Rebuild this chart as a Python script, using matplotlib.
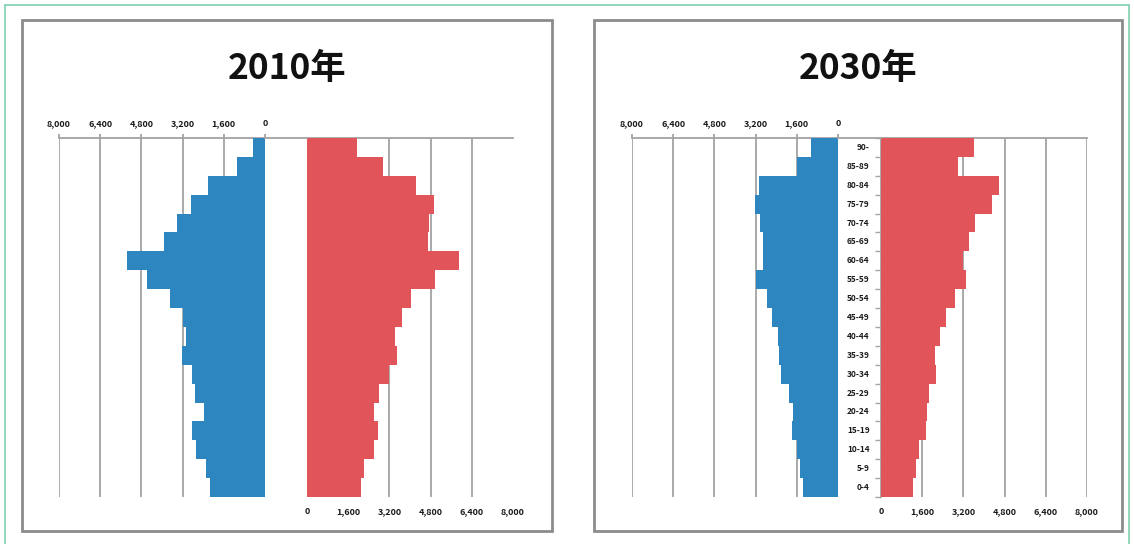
import matplotlib.pyplot as plt
from matplotlib.patches import Rectangle
from matplotlib.lines import Line2D
import numpy as np

plt.rcParams['font.family'] = ['Noto Sans CJK JP', 'DejaVu Sans']

# age groups, youngest first
ages = ['0-4', '5-9', '10-14', '15-19', '20-24', '25-29', '30-34', '35-39', '40-44',
        '45-49', '50-54', '55-59', '60-64', '65-69', '70-74', '75-79', '80-84', '85-89', '90-']

male_2010 = [2155, 2295, 2682, 2837, 2388, 2736, 2837, 3240, 3058,
             3200, 3677, 4580, 5354, 3937, 3418, 2876, 2233, 1096, 453]
female_2010 = [2104, 2208, 2595, 2750, 2595, 2789, 3176, 3486, 3421,
               3692, 4040, 4983, 5886, 4710, 4724, 4918, 4233, 2942, 1924]

male_2030 = [1366, 1470, 1587, 1782, 1730, 1912, 2211, 2276, 2341,
             2576, 2771, 3187, 2900, 2910, 3031, 3212, 3056, 1600, 1066]
female_2030 = [1260, 1352, 1495, 1755, 1805, 1860, 2145, 2105, 2300,
               2510, 2860, 3300, 3170, 3405, 3640, 4300, 4600, 2990, 3600]

ticks = [0, 1600, 3200, 4800, 6400, 8000]
tick_labels = ['0', '1,600', '3,200', '4,800', '6,400', '8,000']

W, H = 1134, 544
BLUE = '#2E86C1'
RED = '#E0545A'
GRID = '#a3a3a3'
LABEL = '#1a1a1a'

fig = plt.figure(figsize=(W / 100, H / 100), dpi=100)


def px_axes(x0, x1, y0, y1):
    # pixel box (top-left origin) -> figure axes
    return fig.add_axes([x0 / W, 1 - y1 / H, (x1 - x0) / W, (y1 - y0) / H])


def frame(x0, y0, x1, y1, color, lw):
    fig.patches.append(Rectangle((x0 / W, 1 - y1 / H), (x1 - x0) / W, (y1 - y0) / H,
                                 transform=fig.transFigure, fill=False,
                                 edgecolor=color, linewidth=lw))


def pyramid(x_left, x_mid0, x_mid1, x_right, male, female, title, title_x,
            age_labels=False, female_last_grid=True):
    top, bottom = 138, 497
    y = np.arange(len(ages))

    axm = px_axes(x_left, x_mid0, top, bottom)
    axf = px_axes(x_mid1, x_right, top, bottom)

    axm.barh(y, male, height=1.0, color=BLUE, zorder=3)
    axf.barh(y, female, height=1.0, color=RED, zorder=3)

    for ax in (axm, axf):
        ax.set_ylim(-0.5, len(ages) - 0.5)
        ax.set_xlim(0, 8000)
        ax.set_yticks([])
        for s in ('left', 'right', 'bottom'):
            ax.spines[s].set_visible(False)
        ax.spines['top'].set_color(GRID)
        ax.spines['top'].set_linewidth(1.3)
        ax.set_facecolor('none')

    axm.invert_xaxis()
    axm.xaxis.tick_top()
    axm.set_xticks(ticks)
    axm.set_xticklabels(tick_labels, fontweight='bold')
    axm.tick_params(axis='x', length=3, width=1.3, color=GRID, labelsize=6.5,
                    labelcolor=LABEL, pad=4)
    for t in ticks:
        axm.axvline(t, color=GRID, linewidth=1.3, zorder=1)

    axf.set_xticks(ticks)
    axf.set_xticklabels(tick_labels, fontweight='bold')
    axf.tick_params(axis='x', length=0, labelsize=6.5, labelcolor=LABEL, pad=7)
    grid_vals = ticks if female_last_grid else ticks[:-1]
    for t in grid_vals:
        axf.axvline(t, color=GRID, linewidth=1.3, zorder=1)

    # top axis line runs across the gap between the halves
    fig.add_artist(Line2D([x_mid0 / W, x_mid1 / W], [1 - top / H, 1 - top / H],
                          color=GRID, linewidth=1.3))

    if age_labels:
        axf.spines['left'].set_visible(True)
        axf.spines['left'].set_color(GRID)
        axf.spines['left'].set_linewidth(1.3)
        axf.set_yticks(np.arange(len(ages) + 1) - 0.5, minor=True)
        axf.tick_params(axis='y', which='minor', length=4, width=1.0, color=GRID,
                        direction='out')
        for yi, lab in zip(y, ages):
            axf.text(-0.055, yi, lab, transform=axf.get_yaxis_transform(),
                     ha='right', va='center', fontsize=6, fontweight='bold',
                     color=LABEL)

    fig.text(title_x / W, 1 - 69 / H, title, ha='center', va='center',
             fontsize=25.5, fontweight='bold', color='#111111')


# outer border and panel frames
frame(5, 5, 1129, 560, '#7fd1ae', 1.2)
frame(22, 20, 552, 531, '#8c8c8c', 2)
frame(594, 20, 1122, 531, '#8c8c8c', 2)

pyramid(59, 265, 307, 513, male_2010, female_2010, '2010年', 287,
        age_labels=False, female_last_grid=False)
pyramid(632, 838, 881, 1087, male_2030, female_2030, '2030年', 858,
        age_labels=True)

fig.savefig('out.png', dpi=100)
